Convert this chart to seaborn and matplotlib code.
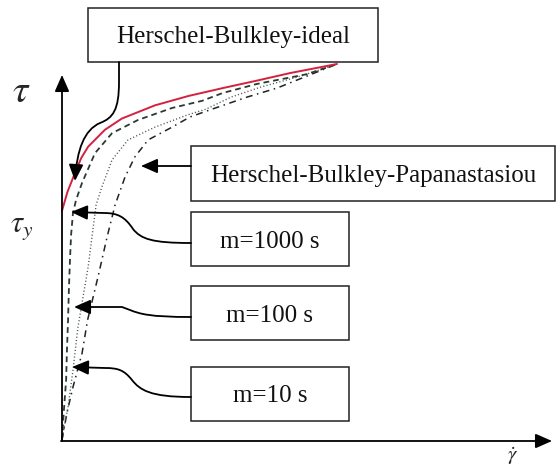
import numpy as np
import pandas as pd
import seaborn as sns
import matplotlib
matplotlib.use("Agg")
import matplotlib.pyplot as plt
from matplotlib.path import Path
from matplotlib.patches import FancyArrowPatch, Rectangle
from matplotlib.transforms import IdentityTransform

# ---- flow curves: shear rate (gamma) vs shear stress (tau), arbitrary units ----
hb_gamma = [0, 2, 4.7, 7, 9.5, 15.6, 21.8, 33.8, 46, 58.5, 71, 83, 100]
hb_tau = [61, 66, 71, 75, 78, 82.5, 85.5, 89, 91.5, 93.6, 95.6, 97.6, 100]

m1000_gamma = [0, 0.7, 1.5, 1.8, 2.2, 2.5, 2.9, 3.3, 4.0, 5.1, 7.3, 12.0, 18.2,
               27.6, 40, 50.9, 58.5, 70.9, 89.1, 100]
m1000_tau = [0, 8.0, 16.0, 23.9, 31.9, 39.9, 47.9, 54.5, 60.4, 63.8, 68.4, 76.3,
             81.6, 85.1, 88.3, 90.2, 92.3, 94.7, 97.3, 100]

m100_gamma = [0, 0.4, 2.2, 4.0, 5.8, 9.5, 12.4, 14.5, 18.2, 24, 33.8, 45.8, 52.4,
              61.5, 72.4, 86.9, 100]
m100_tau = [0, 1.9, 8.8, 18.6, 30.0, 46.0, 62.5, 67.3, 74.5, 79.8, 83.2, 86.5,
            88.0, 91.2, 93.9, 96.8, 100]

m10_gamma = [0, 1.8, 4.0, 7.3, 9.3, 13.1, 16.4, 19.3, 22.9, 26.5, 31.3, 40, 46.5,
             53.8, 67.3, 78.2, 89.1, 100]
m10_tau = [0, 7.2, 14.1, 23.1, 31.9, 43.4, 54.0, 62.5, 69.9, 75.3, 79.8, 83.2,
           85.9, 87.8, 91.2, 93.6, 96.8, 100]

curve_names = ["Herschel-Bulkley-ideal", "m=1000 s", "m=100 s", "m=10 s"]
box_labels = ["Herschel-Bulkley-ideal", "Herschel-Bulkley-Papanastasiou",
              "m=1000 s", "m=100 s", "m=10 s"]

frames = []
for name, g, t in zip(curve_names,
                      [hb_gamma, m1000_gamma, m100_gamma, m10_gamma],
                      [hb_tau, m1000_tau, m100_tau, m10_tau]):
    frames.append(pd.DataFrame({"gamma": g, "tau": t, "model": name}))
df = pd.concat(frames, ignore_index=True)

# ---- figure setup (pixel-exact canvas) ----
W, H, DPI = 558, 471, 100
sns.set_style("white")
plt.rcParams["font.family"] = ["Liberation Serif", "DejaVu Serif"]
plt.rcParams["mathtext.fontset"] = "stix"

fig = plt.figure(figsize=(W / DPI, H / DPI), dpi=DPI)
ax = fig.add_axes([0, 0, 1, 1])

# data origin sits at pixel (62, 440) measured from the top-left corner
X0, Y0, SX, SY = 62, 440, 2.75, 3.76
ax.set_xlim(-X0 / SX, (W - X0) / SX)
ax.set_ylim((Y0 - H) / SY, Y0 / SY)
ax.set_axis_off()

palette = {"Herschel-Bulkley-ideal": "#d3213f", "m=1000 s": "#2b3a30",
           "m=100 s": "#4a5a50", "m=10 s": "#222222"}
dashes = {"Herschel-Bulkley-ideal": "", "m=1000 s": (3.2, 2.2),
          "m=100 s": (0.8, 1.6), "m=10 s": (4.5, 3.0, 1.0, 3.0)}
widths = {"Herschel-Bulkley-ideal": 1.4, "m=1000 s": 1.3,
          "m=100 s": 1.0, "m=10 s": 1.1}

for name in curve_names[::-1]:
    sub = df[df["model"] == name]
    sns.lineplot(data=sub, x="gamma", y="tau", ax=ax, color=palette[name],
                 linewidth=widths[name], estimator=None, sort=False,
                 legend=False, zorder=3 if name.startswith("H") else 2)
    line = ax.get_lines()[-1]
    if dashes[name]:
        line.set_dashes(dashes[name])

# ---- helpers in pixel coordinates (y measured from top) ----
def disp(x, y):
    return (x, H - y)

def arrow(points, codes=None, head=True):
    verts = [disp(*p) for p in points]
    if codes is None:
        codes = [Path.MOVETO] + [Path.LINETO] * (len(verts) - 1)
    style = "-|>,head_length=0.5,head_width=0.22" if head else "-"
    patch = FancyArrowPatch(path=Path(verts, codes), arrowstyle=style,
                            mutation_scale=20, color="black", lw=1.3,
                            transform=IdentityTransform(), shrinkA=0, shrinkB=0,
                            zorder=5)
    fig.add_artist(patch)

def box(x0, y0, x1, y1, text, size=18):
    rect = Rectangle(disp(x0, y1), x1 - x0, y1 - y0, fill=True,
                     facecolor="white", edgecolor="#222222", lw=1.1,
                     transform=IdentityTransform(), zorder=4)
    fig.add_artist(rect)
    fig.text((x0 + x1) / 2 / W, 1 - (y0 + y1) / 2 / H, text, ha="center",
             va="center_baseline", fontsize=size, color="#111111", zorder=6)

# coordinate axes with arrow heads
arrow([(62, 441), (62, 75)])
arrow([(61, 441), (552, 441)])

fig.text(21 / W, 1 - 93 / H, r"$\tau$", fontsize=28, ha="center", va="center")
fig.text(22 / W, 1 - 228 / H, r"$\tau_y$", fontsize=22, ha="center", va="center")
fig.text(513 / W, 1 - 456 / H, r"$\dot{\gamma}$", fontsize=15, ha="center",
         va="center")

# labelled boxes
box(88, 8, 378, 62, box_labels[0])
box(191, 146, 555, 201, box_labels[1])
box(191, 212, 349, 266, box_labels[2])
box(191, 286, 349, 340, box_labels[3])
box(191, 367, 349, 421, box_labels[4])

C4, L, M = Path.CURVE4, Path.LINETO, Path.MOVETO

# Herschel-Bulkley-ideal pointer
arrow([(119, 62), (119, 82), (119, 110), (113, 118), (100, 123),
       (84, 130), (77, 150), (75, 181)],
      [M, L, C4, C4, C4, C4, C4, C4])
# Papanastasiou pointer
arrow([(191, 166), (141, 166)])
# m=1000 s pointer
arrow([(191, 243), (152, 243), (141, 239), (133, 229),
       (125, 217), (118, 213), (104, 213), (71, 212)],
      [M, C4, C4, C4, C4, C4, C4, L])
# m=100 s pointer
arrow([(191, 317), (150, 317), (140, 314), (130, 310),
       (122, 307), (112, 307), (74, 307)],
      [M, C4, C4, C4, L, L, L])
# m=10 s pointer
arrow([(191, 397), (150, 397), (140, 390), (132, 380),
       (124, 370), (118, 368), (105, 368), (72, 367)],
      [M, C4, C4, C4, C4, C4, C4, L])

fig.savefig("out.png", dpi=DPI, facecolor="white")
